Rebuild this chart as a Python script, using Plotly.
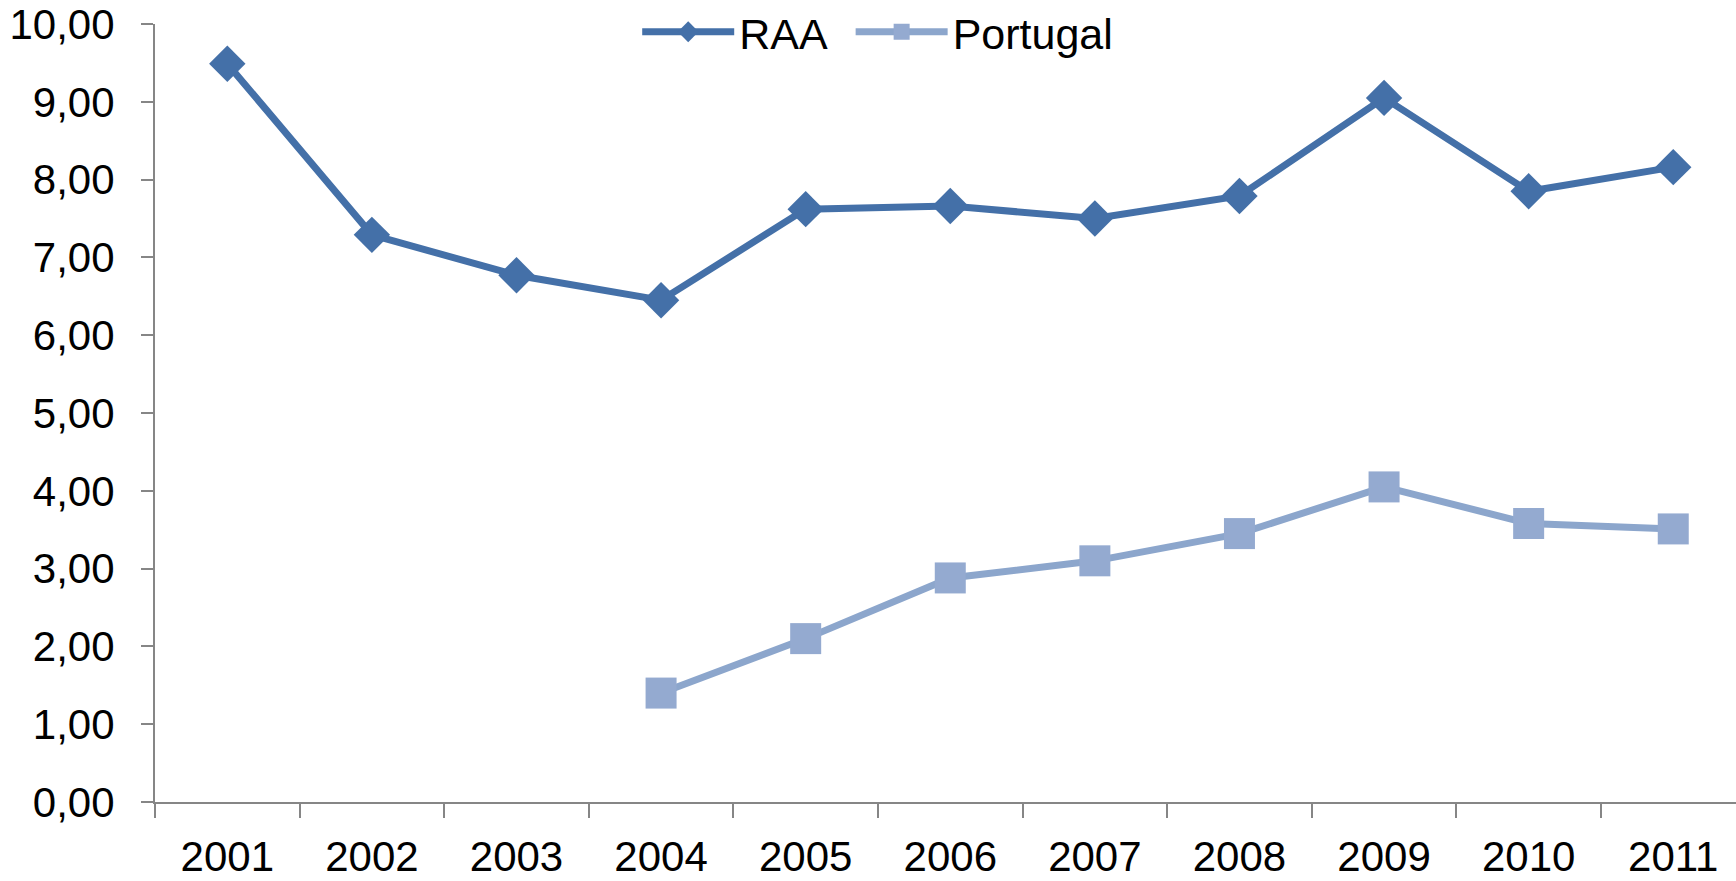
import plotly.graph_objects as go

years = ["2001", "2002", "2003", "2004", "2005", "2006", "2007", "2008", "2009", "2010", "2011"]
raa = [9.49, 7.29, 6.77, 6.45, 7.62, 7.66, 7.50, 7.79, 9.05, 7.85, 8.16]
portugal = [None, None, None, 1.40, 2.10, 2.88, 3.10, 3.45, 4.05, 3.58, 3.51]

FONT = "Liberation Sans, Arial, sans-serif"

fig = go.Figure()
fig.add_trace(go.Scatter(
    x=years, y=raa, name="RAA", mode="lines+markers",
    line=dict(color="#4470A8", width=7),
    marker=dict(symbol="diamond", size=28, color="#4470A8"),
    cliponaxis=False, legend="legend",
))
fig.add_trace(go.Scatter(
    x=years, y=portugal, name="Portugal", mode="lines+markers",
    line=dict(color="#8CA6CC", width=7),
    marker=dict(symbol="square", size=31, color="#94AAD0"),
    cliponaxis=False, legend="legend2",
))

leg_common = dict(
    orientation="h", xanchor="left", y=0.99, yanchor="middle",
    font=dict(size=43, family=FONT, color="black"),
    itemwidth=92, bgcolor="rgba(0,0,0,0)",
)

fig.update_layout(
    width=1736, height=881,
    paper_bgcolor="white", plot_bgcolor="white",
    margin=dict(l=155, r=0, t=24, b=79, autoexpand=False),
    separators=",.",
    font=dict(family=FONT, size=42, color="black"),
    showlegend=True,
    legend=dict(x=0.305, **leg_common),
    legend2=dict(x=0.440, **leg_common),
    xaxis=dict(
        type="category", range=[-0.5, 10.434],
        showline=True, linecolor="#868686", linewidth=2,
        ticks="outside", ticklen=14, tickwidth=2, tickcolor="#868686",
        tickson="boundaries", showgrid=False, zeroline=False,
        tickfont=dict(size=42, family=FONT, color="black"),
        ticklabelstandoff=17,
    ),
    yaxis=dict(
        range=[0, 10], dtick=1, tickformat=".2f",
        showline=True, linecolor="#868686", linewidth=2,
        ticks="outside", ticklen=12, tickwidth=2, tickcolor="#868686",
        showgrid=False, zeroline=False,
        tickfont=dict(size=42, family=FONT, color="black"),
        ticklabelstandoff=18,
    ),
)

fig.write_html(
    "out.html",
    config={"displayModeBar": False},
    post_script="document.body.style.margin='0';document.body.style.overflow='hidden';",
)
